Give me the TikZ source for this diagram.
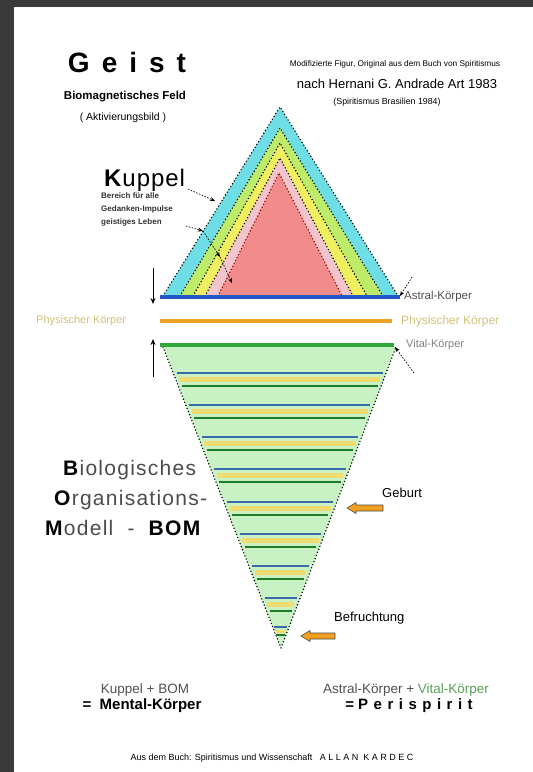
\documentclass[tikz,border=0pt]{standalone}
\usepackage{fontspec}
\setmainfont{Liberation Sans}
\usetikzlibrary{arrows.meta}
\definecolor{framebg}{HTML}{3A3A3A}
\definecolor{kcyan}{HTML}{6EDDE6}
\definecolor{klime}{HTML}{BDEB6A}
\definecolor{kyellow}{HTML}{EFEF60}
\definecolor{kpink}{HTML}{F2C4CC}
\definecolor{ksalmon}{HTML}{F28C8C}
\definecolor{astralblue}{HTML}{2458C8}
\definecolor{physorange}{HTML}{F0A024}
\definecolor{vitalgreen}{HTML}{2EA83A}
\definecolor{bomfill}{HTML}{C8F2C4}
\definecolor{sblue}{HTML}{3A6AA8}
\definecolor{syellow}{HTML}{F0DC70}
\definecolor{sgreen}{HTML}{1E7A28}
\definecolor{phystext}{HTML}{D2C27A}
\definecolor{greytext}{HTML}{505050}
\definecolor{vitaltext}{HTML}{5AA05A}
\definecolor{arrowfill}{HTML}{F0A020}
\newcommand\fsz[1]{\fontsize{#1}{#1}\selectfont}
\tikzset{
  dotedge/.style={line width=1.6pt, dash pattern=on 0pt off 3.3pt, line cap=round},
  reddot/.style={dotedge, draw=red!60!black},
  lbl/.style={inner sep=0pt, anchor=west},
  ptr/.style={-{Stealth[length=5pt,width=4pt]}, line width=0.7pt, dash pattern=on 1.5pt off 1.5pt},
  vptr/.style={-{Stealth[length=6pt,width=5pt]}, line width=1pt},
  bar/.style={line width=4pt},
  oarrow/.style={fill=arrowfill, draw=black!70, line width=0.6pt}
}
\begin{document}
\begin{tikzpicture}[x=1pt,y=-1pt]
\useasboundingbox (0,0) rectangle (533,772);
\fill[framebg] (0,0) rectangle (533,772);
\fill[white] (14,7) rectangle (533,772);

% ---- upper triangle (Kuppel) ----
\fill[kcyan]   (280,107) -- (398,296) -- (163,296) -- cycle;
\fill[klime]   (280,128) -- (383,296) -- (180,296) -- cycle;
\fill[kyellow] (280,143) -- (367,296) -- (193,296) -- cycle;
\fill[kpink]   (280,158) -- (353,296) -- (205,296) -- cycle;
\fill[ksalmon] (279,173) -- (342,296) -- (218,296) -- cycle;
\draw[dotedge] (163,296) -- (280,107) -- (398,296);
\draw[dotedge] (180,296) -- (280,128) -- (383,296);
\draw[dotedge] (193,296) -- (280,143) -- (367,296);
\draw[dotedge] (205,296) -- (280,158) -- (353,296);
\draw[reddot]  (218,296) -- (279,173) -- (342,296);

% ---- lower triangle (BOM) ----
\fill[bomfill] (163,347) -- (396,347) -- (281,648) -- cycle;
\draw[dotedge] (163,347) -- (281,648) -- (396,347);
\foreach \yy in {373,405,437,469,502,534,566,598}{
  \foreach \dy/\col/\w in {0/sblue/1.8, 6.5/syellow/5.5, 13/sgreen/2}{
    \pgfmathsetmacro\yc{\yy+\dy}
    \pgfmathsetmacro\xl{163+0.392*(\yc-347)+3.5}
    \pgfmathsetmacro\xr{396-0.382*(\yc-347)-3.5}
    \draw[\col, line width=\w pt] (\xl,\yc) -- (\xr,\yc);
  }
}
\draw[sblue, line width=1.2pt] (274,627) -- (287,627);
\draw[syellow, line width=3pt] (275,631) -- (286,631);
\draw[sgreen, line width=1.2pt] (276,635) -- (285,635);

% ---- horizontal body lines ----
\draw[astralblue, bar] (160,297) -- (400,297);
\draw[physorange, bar] (160,321) -- (392,321);
\draw[vitalgreen, bar] (160,345) -- (394,345);

% ---- vertical arrows on the left ----
\coordinate (dtop) at (153,268); \coordinate (dtip) at (153,304);
\coordinate (ubot) at (153,377); \coordinate (utip) at (153,339);
\draw[vptr] (dtop) -- (dtip);
\draw[vptr] (ubot) -- (utip);

% ---- title texts ----
\node (geist) at (127,62) {\fsz{28}\bfseries G\hspace{12pt}e\hspace{12pt}i\hspace{12pt}s\hspace{12pt}t};
\node (feld) at (125,97) {\fsz{11.5}\bfseries Biomagnetisches Feld};
\node (leben) at (123,118) {\fsz{10.5}( Aktivierungsbild )};

\node (src1) at (395,64) {\fsz{8.3}Modifizierte Figur, Original aus dem Buch von Spiritismus};
\node (src2) at (397,84) {\fsz{13}nach Hernani G. Andrade Art 1983};
\node (src3) at (387,102) {\fsz{8.8}(Spiritismus Brasilien 1984)};

% ---- Kuppel ----
\node[lbl] (kuppel) at (104,180) {\fsz{24}\addfontfeature{LetterSpace=4}\textbf{K}uppel};
\node[lbl, align=left] (kuppeltxt) at (101,209) {\fsz{8}\bfseries\color{black!80}Bereich für alle\\[1pt]\fsz{8}\bfseries\color{black!80}Gedanken-Impulse\\[1pt]\fsz{8}\bfseries\color{black!80}geistiges Leben};
\coordinate (k1s) at (188,189); \coordinate (k1e) at (215,201);
\draw[ptr] (k1s) -- (k1e);
\coordinate (k2s) at (186,226);
\coordinate (k2a) at (203,231);
\coordinate (k2b) at (220,257);
\coordinate (k2c) at (232,283);
\draw[ptr] (k2s) -- (k2a);
\draw[ptr] (k2a) -- (k2b);
\draw[ptr] (k2b) -- (k2c);

% ---- body labels ----
\node[lbl] (astral) at (404,297) {\fsz{11.5}\color{greytext}Astral-Körper};
\node[lbl] (physr) at (401,321) {\fsz{12}\color{phystext}Physischer Körper};
\node[lbl] (physl) at (36,321) {\fsz{11}\color{phystext}Physischer Körper};
\node[lbl] (vital) at (406,345) {\fsz{11}\color{gray}Vital-Körper};
\coordinate (astralp) at (412,277); \coordinate (astralend) at (400,296);
\coordinate (vitalp) at (414,373); \coordinate (vitalend) at (395,347);
\draw[ptr] (astralp) -- (astralend);
\draw[ptr] (vitalp) -- (vitalend);

% ---- BOM label ----
\node[lbl] (bio) at (63,470) {\fsz{21}\addfontfeature{LetterSpace=6}\textbf{B}{\color{black!70}iologisches}};
\node[lbl] (org) at (54,500) {\fsz{21}\addfontfeature{LetterSpace=6}\textbf{O}{\color{black!70}rganisations-}};
\node[lbl] (mod) at (45,528) {\fsz{21}\addfontfeature{LetterSpace=6}\textbf{M}{\color{black!70}odell\ \ -\ \ }\textbf{BOM}};

% ---- Geburt / Befruchtung ----
\node[lbl] (geburt) at (382,493) {\fsz{13}Geburt};
\node[lbl] (befr) at (334,618) {\fsz{13}Befruchtung};
\coordinate (gtip) at (347,508);
\draw[oarrow] (gtip) -- ++(9,-5.5) -- ++(0,2.5) -- ++(27,0) -- ++(0,6) -- ++(-27,0) -- ++(0,2.5) -- cycle;
\coordinate (btip) at (301,636);
\draw[oarrow] (btip) -- ++(9,-5.5) -- ++(0,2.5) -- ++(25,0) -- ++(0,6) -- ++(-25,0) -- ++(0,2.5) -- cycle;

% ---- bottom formulas ----
\node (sum1) at (145,690) {\fsz{13.5}\color{greytext}Kuppel + BOM};
\node (res1) at (142,706) {\fsz{15}\bfseries =\ \ Mental-Körper};
\node (sum2) at (406,690) {\fsz{13.5}{\color{greytext}Astral-Körper +} {\color{vitaltext}Vital-Körper}};
\node (res2) at (409,706) {\fsz{15}\bfseries =\ P\hspace{5.5pt}e\hspace{5.5pt}r\hspace{5.5pt}i\hspace{5.5pt}s\hspace{5.5pt}p\hspace{5.5pt}i\hspace{5.5pt}r\hspace{5.5pt}i\hspace{5.5pt}t};

% ---- footer ----
\node (footer) at (272,758) {\fsz{9}Aus dem Buch: Spiritismus und Wissenschaft \ \ A L L A N \ K A R D E C};
\end{tikzpicture}
\end{document}
